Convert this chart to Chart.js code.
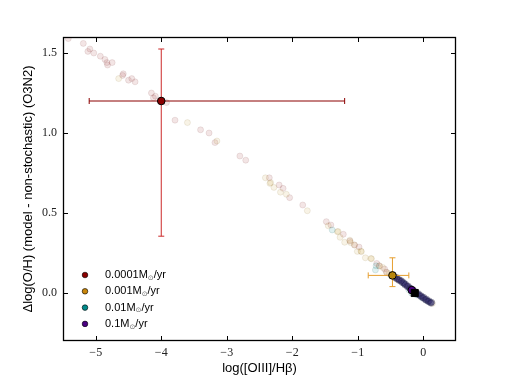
<!DOCTYPE html>
<html>
<head>
<meta charset="utf-8">
<script src="https://cdn.jsdelivr.net/npm/chart.js@4.4.0/dist/chart.umd.min.js"></script>
<style>
  html, body { margin: 0; padding: 0; background: #fff; }
</style>
</head>
<body>
<canvas id="chart" width="507" height="380"></canvas>
<script>
// tick values
const xTickVals = [-5, -4, -3, -2, -1, 0];
const yTickVals = [0, 0.5, 1.0, 1.5];

// legend text (⊙ drawn as subscript)
const legendLabels = ['0.0001M⊙/yr', '0.001M⊙/yr', '0.01M⊙/yr', '0.1M⊙/yr'];
const legendColors = ['#8B0000', '#C8860B', '#008B8B', '#4B0082'];

// faint model points, [log([OIII]/Hb), dlog(O/H)]
const pts00001 = [[-5.42,1.59],[-5.19,1.56],[-5.09,1.525],[-5.12,1.51],[-5.03,1.50],[-4.93,1.48],[-4.86,1.46],
  [-4.83,1.44],[-4.82,1.425],[-4.75,1.44],[-4.58,1.37],[-4.59,1.36],[-4.50,1.33],[-4.45,1.34],[-4.40,1.32],
  [-4.15,1.25],[-4.09,1.23],[-4.12,1.22],[-3.92,1.19],[-3.79,1.08],[-3.40,1.02],[-3.27,1.00],[-3.18,0.94],
  [-2.80,0.856],[-2.71,0.83],[-2.35,0.72],[-2.20,0.675],[-2.14,0.654],[-2.04,0.596],[-1.84,0.55],
  [-1.48,0.446],[-1.41,0.425],[-1.22,0.367],[-1.12,0.325],[-1.05,0.30],[-0.98,0.287],[-0.71,0.185],
  [-0.67,0.169],[-0.59,0.15],[-0.56,0.129]];
const pts0001 = [[-4.65,1.34],[-3.60,1.065],[-3.15,0.95],[-2.41,0.72],[-2.34,0.685],[-2.33,0.69],[-2.28,0.66],
  [-2.18,0.63],[-2.09,0.617],[-1.77,0.514],[-1.45,0.42],[-1.31,0.383],[-1.30,0.385],[-1.27,0.348],
  [-1.20,0.317],[-1.12,0.33],[-1.11,0.315],[-1.05,0.30],[-0.945,0.258],[-0.95,0.262],[-1.006,0.26],
  [-0.884,0.22],[-0.79,0.214],[-0.80,0.216],[-0.67,0.17],[-0.56,0.13],[-0.62,0.16],[-0.52,0.12],
  [-0.40,0.085],[0.14,-0.065]];
const pts001 = [[-1.39,0.394],[-0.73,0.144],[-0.72,0.17],[-0.30,0.06],[-0.22,0.02],[-0.18,0.0],
  [-0.10,-0.012],[-0.02,-0.03],[0.05,-0.045],[0.10,-0.058]];
const pts01 = [[-0.44,0.102],[-0.43,0.094],[-0.41,0.098],[-0.40,0.088],[-0.38,0.085],[-0.37,0.078],
  [-0.36,0.083],[-0.34,0.072],[-0.33,0.076],[-0.32,0.064],[-0.30,0.066],[-0.29,0.058],[-0.28,0.050],
  [-0.27,0.056],[-0.25,0.045],[-0.24,0.038],[-0.23,0.044],[-0.21,0.033],[-0.20,0.026],[-0.19,0.030],
  [-0.17,0.020],[-0.16,0.012],[-0.15,0.018],[-0.13,0.008],[-0.12,0.000],[-0.11,0.004],[-0.09,-0.006],
  [-0.08,-0.010],[-0.07,-0.004],[-0.05,-0.016],[-0.04,-0.022],[-0.03,-0.017],[-0.01,-0.028],[0.00,-0.033],
  [0.01,-0.027],[0.03,-0.040],[0.04,-0.045],[0.05,-0.038],[0.07,-0.050],[0.08,-0.055],[0.09,-0.049],
  [0.11,-0.060],[0.12,-0.064],[0.13,-0.058]];

// median points with error ranges
const redPoint = [-4.0, 1.2];
const redXErr = [-5.1, -1.2];
const redYErr = [0.355, 1.525];
const orangePoint = [-0.47, 0.11];
const orangeXErr = [-0.84, -0.22];
const orangeYErr = [0.04, 0.22];
const purplePoint = [-0.175, 0.018];
const blackSquare = [-0.13, 0.0];

const toXY = arr => arr.map(p => ({x: p[0], y: p[1]}));

function faint(data, fill, edge, order) {
  return {
    data: toXY(data),
    backgroundColor: fill,
    borderColor: edge,
    borderWidth: 1,
    pointRadius: 3,
    order: order
  };
}

function errBar(x0, y0, x1, y1, color, capRot, order) {
  return {
    data: [{x: x0, y: y0}, {x: x1, y: y1}],
    showLine: true,
    borderColor: color,
    borderWidth: 1,
    pointStyle: 'line',
    pointRadius: 3,
    pointRotation: capRot,
    pointBorderColor: color,
    pointBorderWidth: 1,
    order: order
  };
}

function marker(p, color, style, radius, order) {
  return {
    data: [{x: p[0], y: p[1]}],
    backgroundColor: color,
    borderColor: '#000',
    borderWidth: 1,
    pointStyle: style,
    pointRadius: radius,
    order: order
  };
}

// inward ticks on all four sides + frame
const frameTicks = {
  id: 'frameTicks',
  afterDraw(chart) {
    const {ctx, chartArea: a, scales: {x, y}} = chart;
    ctx.save();
    ctx.strokeStyle = '#000';
    ctx.lineWidth = 1;
    ctx.beginPath();
    x.ticks.forEach(t => {
      const px = Math.round(x.getPixelForValue(t.value)) + 0.5;
      ctx.moveTo(px, a.bottom); ctx.lineTo(px, a.bottom - 5);
      ctx.moveTo(px, a.top); ctx.lineTo(px, a.top + 5);
    });
    y.ticks.forEach(t => {
      const py = Math.round(y.getPixelForValue(t.value)) + 0.5;
      ctx.moveTo(a.left, py); ctx.lineTo(a.left + 5, py);
      ctx.moveTo(a.right, py); ctx.lineTo(a.right - 5, py);
    });
    ctx.stroke();
    ctx.lineWidth = 1.3;
    ctx.strokeRect(a.left + 0.5, a.top + 0.5, a.right - a.left - 1, a.bottom - a.top - 1);
    ctx.restore();
  }
};

// legend with subscript sun symbol
const sunLegend = {
  id: 'sunLegend',
  afterDraw(chart) {
    const {ctx, chartArea: a} = chart;
    ctx.save();
    const mx = a.left + 22, tx = a.left + 42;
    let yy = a.bottom - 66;
    legendLabels.forEach((lab, i) => {
      ctx.beginPath();
      ctx.fillStyle = legendColors[i];
      ctx.strokeStyle = '#000';
      ctx.lineWidth = 0.6;
      ctx.arc(mx, yy, 2.8, 0, Math.PI * 2);
      ctx.fill();
      ctx.stroke();
      const parts = lab.split('⊙');
      ctx.fillStyle = '#000';
      ctx.textBaseline = 'middle';
      ctx.font = '11px "Liberation Sans", Arial, sans-serif';
      ctx.fillText(parts[0], tx, yy);
      let w = ctx.measureText(parts[0]).width;
      ctx.font = '7px "DejaVu Sans", sans-serif';
      ctx.fillStyle = '#666';
      ctx.fillText('⊙', tx + w, yy + 3);
      w += ctx.measureText('⊙').width;
      ctx.fillStyle = '#000';
      ctx.font = '11px "Liberation Sans", Arial, sans-serif';
      ctx.fillText(parts[1], tx + w, yy);
      yy += 16.3;
    });
    ctx.restore();
  }
};

const minus = v => (v < 0 ? '\u2212' : '') + Math.abs(v);

new Chart(document.getElementById('chart').getContext('2d'), {
  type: 'scatter',
  data: {
    datasets: [
      marker(blackSquare, '#000', 'rect', 5, 0),
      marker(purplePoint, '#4B0082', 'circle', 3.8, 1),
      marker(orangePoint, '#B8860B', 'circle', 3.8, 2),
      marker(redPoint, '#8B0000', 'circle', 3.8, 3),
      errBar(orangeXErr[0], orangePoint[1], orangeXErr[1], orangePoint[1], '#E69F30', 90, 4),
      errBar(orangePoint[0], orangeYErr[0], orangePoint[0], orangeYErr[1], '#E69F30', 0, 4),
      errBar(redXErr[0], redPoint[1], redXErr[1], redPoint[1], '#8B0000', 90, 5),
      errBar(redPoint[0], redYErr[0], redPoint[0], redYErr[1], '#CC2A2A', 0, 5),
      faint(pts01, 'rgba(50,40,110,0.3)', 'rgba(20,20,50,0.25)', 6),
      faint(pts001, 'rgba(0,139,139,0.12)', 'rgba(0,90,90,0.12)', 7),
      faint(pts0001, 'rgba(184,134,11,0.1)', 'rgba(120,90,20,0.1)', 8),
      faint(pts00001, 'rgba(139,0,0,0.1)', 'rgba(100,20,20,0.1)', 9)
    ]
  },
  options: {
    responsive: false,
    animation: false,
    events: [],
    layout: { padding: { top: 37, right: 51, left: 0, bottom: 0 } },
    plugins: { legend: { display: false }, tooltip: { enabled: false } },
    scales: {
      x: {
        type: 'linear',
        min: -5.5,
        max: 0.5,
        afterBuildTicks: s => { s.ticks = xTickVals.map(v => ({value: v})); },
        afterFit: s => { s.height = 39; },
        grid: { drawOnChartArea: false, drawTicks: false },
        border: { display: false },
        ticks: {
          padding: 5,
          autoSkip: false,
          maxRotation: 0,
          color: '#222',
          font: { family: '"Liberation Serif", serif', size: 12 },
          callback: v => minus(v)
        },
        title: {
          display: true,
          text: 'log([OIII]/Hβ)',
          color: '#000',
          font: { family: '"Liberation Sans", Arial, sans-serif', size: 13 },
          padding: { top: 0, bottom: 4 }
        }
      },
      y: {
        type: 'linear',
        min: -0.3,
        max: 1.6,
        afterBuildTicks: s => { s.ticks = yTickVals.map(v => ({value: v})); },
        afterFit: s => { s.width = 63; },
        grid: { drawOnChartArea: false, drawTicks: false },
        border: { display: false },
        ticks: {
          padding: 6,
          autoSkip: false,
          color: '#222',
          font: { family: '"Liberation Serif", serif', size: 12 },
          callback: v => Number(v).toFixed(1)
        },
        title: {
          display: true,
          text: 'Δlog(O/H) (model - non-stochastic) (O3N2)',
          color: '#000',
          font: { family: '"Liberation Sans", Arial, sans-serif', size: 13 },
          padding: { top: 21, bottom: 0 }
        }
      }
    }
  },
  plugins: [frameTicks, sunLegend]
});
</script>
</body>
</html>
